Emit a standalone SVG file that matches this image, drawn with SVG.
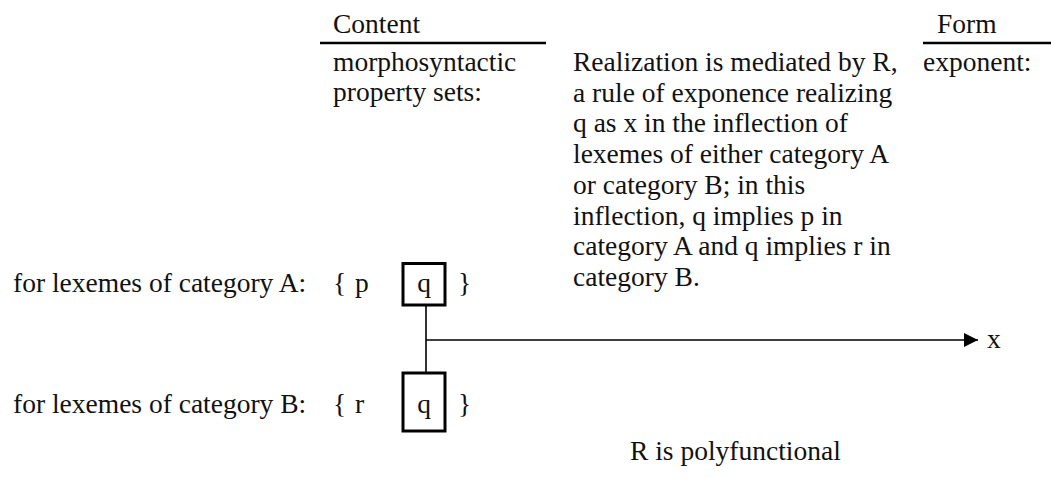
<svg xmlns="http://www.w3.org/2000/svg" width="1051" height="483" viewBox="0 0 1051 483">
<style>
text{font-family:"Liberation Serif","Times New Roman",serif;font-size:27.5px;fill:#111}
.rule{stroke:#000;stroke-width:2.7;fill:none}
.box{stroke:#000;stroke-width:3;fill:none}
.ln{stroke:#000;stroke-width:1.6;fill:none}
</style>
<defs>
<marker id="ah" viewBox="0 0 14 14" refX="14" refY="7" markerWidth="14" markerHeight="14" markerUnits="userSpaceOnUse" orient="auto">
<path d="M0,0 L14,7 L0,14 Z" fill="#000"/>
</marker>
</defs>
<g id="header-content">
<text x="333" y="33">Content</text>
<line class="rule" x1="320" y1="43" x2="546" y2="43"/>
<text x="333" y="71">morphosyntactic</text>
<text x="333" y="101">property sets:</text>
</g>
<g id="header-form">
<text x="937" y="33">Form</text>
<line class="rule" x1="923" y1="43" x2="1051" y2="43"/>
<text x="923" y="71">exponent:</text>
</g>
<g id="explanation">
<text x="573" y="71">Realization is mediated by R,</text>
<text x="573" y="101.7">a rule of exponence realizing</text>
<text x="573" y="132.4">q as x in the inflection of</text>
<text x="573" y="163.1">lexemes of either category A</text>
<text x="573" y="193.8">or category B; in this</text>
<text x="573" y="224.5">inflection, q implies p in</text>
<text x="573" y="255.2">category A and q implies r in</text>
<text x="573" y="285.9">category B.</text>
</g>
<g id="row-a">
<text x="13" y="292">for lexemes of category A:</text>
<text x="333" y="292">{</text>
<text x="355" y="292">p</text>
<text x="458" y="292">}</text>
</g>
<g id="box-qa">
<rect class="box" x="403" y="263.5" width="42" height="41.5"/>
<text x="424" y="292" text-anchor="middle">q</text>
</g>
<g id="row-b">
<text x="13" y="413">for lexemes of category B:</text>
<text x="333" y="413">{</text>
<text x="355" y="413">r</text>
<text x="458" y="413">}</text>
</g>
<g id="box-qb">
<rect class="box" x="403" y="373" width="42" height="58"/>
<text x="424" y="413" text-anchor="middle">q</text>
</g>
<g id="output-x">
<text x="987" y="348">x</text>
</g>
<g id="note">
<text x="630" y="460">R is polyfunctional</text>
</g>
<g id="connectors">
<line class="ln" x1="426" y1="305" x2="426" y2="373"/>
<line class="ln" x1="426" y1="340" x2="978" y2="340" marker-end="url(#ah)"/>
</g>
</svg>
